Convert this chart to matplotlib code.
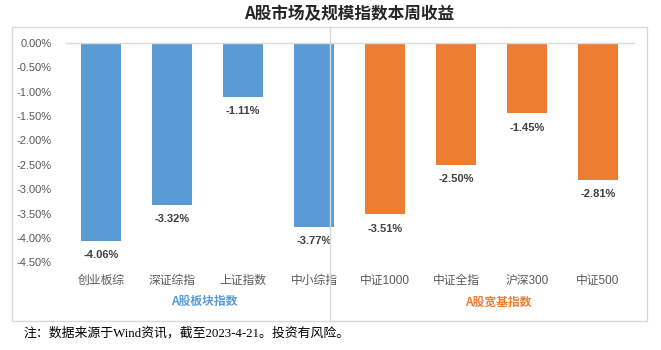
import matplotlib.pyplot as plt
from matplotlib.patches import Rectangle
from matplotlib.lines import Line2D
from matplotlib.ticker import FuncFormatter

# 数据
categories = ['创业板综', '深证综指', '上证指数', '中小综指', '中证1000', '中证全指', '沪深300', '中证500']
returns = [-4.06, -3.32, -1.11, -3.77, -3.51, -2.50, -1.45, -2.81]
bar_colors = ['#5B9BD5'] * 4 + ['#ED7D31'] * 4
group_names = ['A股板块指数', 'A股宽基指数']
group_colors = ['#5B9BD5', '#ED7D31']

mixed = ['Liberation Sans', 'Noto Sans CJK SC']
cjk = ['Noto Sans CJK SC', 'DejaVu Sans']

fig = plt.figure(figsize=(6.61, 3.5), dpi=100)
W, H = 661, 350

# 外框
fig.patches.append(Rectangle((12 / W, 1 - 321 / H), (647 - 12) / W, (321 - 27) / H,
                             transform=fig.transFigure, fill=False,
                             edgecolor='#D9D9D9', linewidth=1))

ax = fig.add_axes([65.5 / W, 1 - 262.3 / H, (633.5 - 65.5) / W, (262.3 - 42.7) / H])
x = range(len(categories))
ax.bar(x, returns, width=0.56, color=bar_colors)

ax.set_xlim(-0.5, len(categories) - 0.5)
ax.set_ylim(-4.5, 0)
ax.set_yticks([-0.5 * i for i in range(10)])
ax.yaxis.set_major_formatter(FuncFormatter(lambda v, p: f'{abs(v):.2f}%' if abs(v) < 1e-9 else f'{v:.2f}%'))
for s in ['left', 'right', 'bottom']:
    ax.spines[s].set_visible(False)
ax.spines['top'].set_color('#D9D9D9')
ax.spines['top'].set_linewidth(1)
ax.tick_params(axis='y', length=0, pad=10, labelsize=8, labelcolor='#595959')
for t in ax.get_yticklabels():
    t.set_family(mixed)

ax.set_xticks(list(x))
ax.set_xticklabels(categories)
ax.tick_params(axis='x', length=0, pad=9, labelsize=8.5, labelcolor='#595959')
for t in ax.get_xticklabels():
    t.set_family(mixed)

# 数据标签
for i, v in enumerate(returns):
    ax.annotate(f'{v:.2f}%', (i, v), xytext=(0, -10.5), textcoords='offset points',
                ha='center', va='center', fontsize=8, fontweight='bold',
                color='#404040', family=mixed)

# 分组标签
ax.text(1.46, -0.18, group_names[0], transform=ax.get_xaxis_transform(),
        ha='center', va='center', fontsize=8.5, fontweight='bold',
        color=group_colors[0], family=cjk)
ax.text(5.6, -0.18, group_names[1], transform=ax.get_xaxis_transform(),
        ha='center', va='center', fontsize=8.5, fontweight='bold',
        color=group_colors[1], family=cjk)

# 分隔线
fig.lines.append(Line2D([329.5 / W, 329.5 / W], [1 - 321 / H, 1 - 27 / H],
                        transform=fig.transFigure, color='#D9D9D9', linewidth=1))

fig.text(349 / W, 1 - 14 / H, 'A股市场及规模指数本周收益', ha='center', va='center',
         fontsize=12, fontweight='bold', color='#262626', family=cjk)

fig.text(23 / W, 1 - 333 / H, '注：数据来源于Wind资讯，截至2023-4-21。投资有风险。',
         ha='left', va='center', fontsize=9.3, color='#000000',
         family=['Liberation Serif', 'Noto Sans CJK SC'])

fig.savefig('out.png', dpi=100)
